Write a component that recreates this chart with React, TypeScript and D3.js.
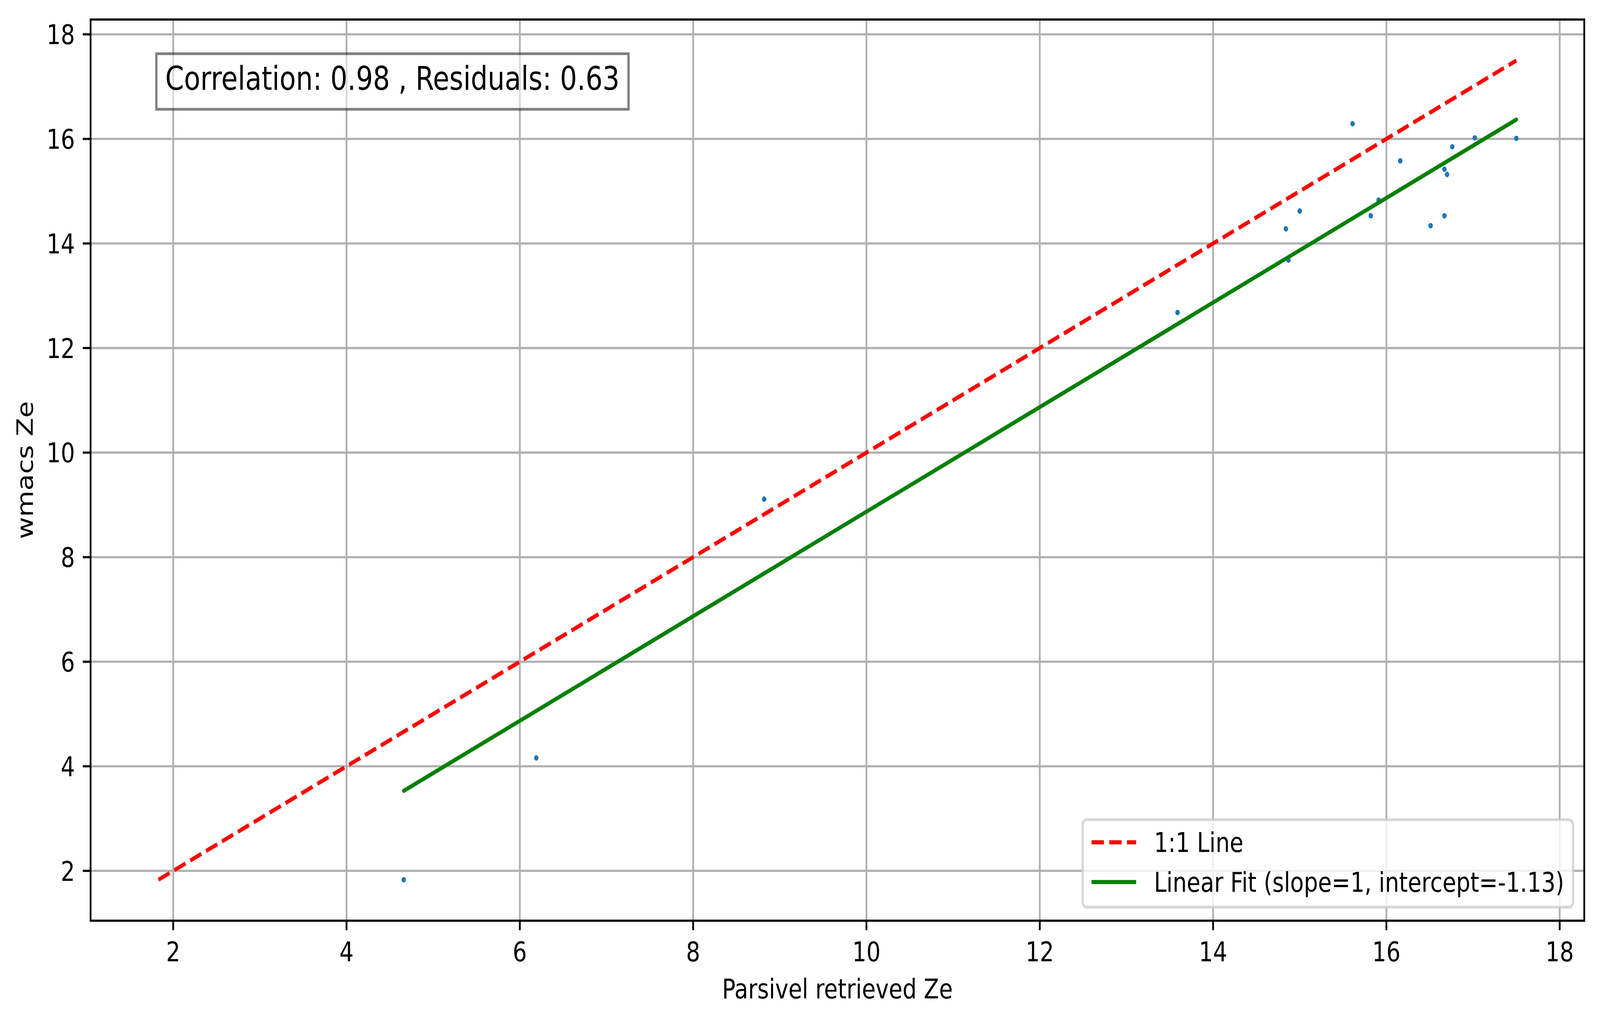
import React, { useRef, useEffect } from "react"
import * as d3 from "d3"

// values
const parsivelZe = [4.66, 6.19, 8.82, 13.59, 14.84, 14.87, 15.0, 15.61, 15.82, 15.91, 16.16, 16.51, 16.67, 16.67, 16.7, 16.76, 17.02, 17.5]
const wmacsZe = [1.83, 4.16, 9.11, 12.68, 14.28, 13.68, 14.62, 16.29, 14.53, 14.83, 15.58, 14.34, 14.53, 15.42, 15.32, 15.85, 16.02, 16.01]
const fitIntercept = -1.13
const xTicks = [2, 4, 6, 8, 10, 12, 14, 16, 18]
const yTicks = [2, 4, 6, 8, 10, 12, 14, 16, 18]
const legendLabels = ["1:1 Line", "Linear Fit (slope=1, intercept=-1.13)"]
const statsText = "Correlation: 0.98 , Residuals: 0.63"
const xLabel = "Parsivel retrieved Ze"
const yLabel = "wmacs Ze"

const W = 4981
const H = 2620
const pt = 500 / 72
const font = "DejaVu Sans"

const App: React.FC = () => {
  const margin = { top: 50, right: W - 4932, bottom: H - 2358, left: 282 }
  const svgRef = useRef<SVGSVGElement>(null)

  useEffect(() => {
    const svg = d3.select(svgRef.current)
    svg.selectAll("*").remove()

    const lo = Math.min(d3.min(parsivelZe)!, d3.min(wmacsZe)!)
    const hi = Math.max(d3.max(parsivelZe)!, d3.max(wmacsZe)!)
    const pad = (hi - lo) * 0.05

    const x0 = margin.left, x1 = W - margin.right
    const y0 = margin.top, y1 = H - margin.bottom

    const x = d3.scaleLinear().domain([lo - pad, hi + pad]).range([x0, x1])
    const y = d3.scaleLinear().domain([lo - pad, hi + pad]).range([y1, y0])

    svg.append("rect").attr("width", W).attr("height", H).attr("fill", "white")

    // grid
    const grid = svg.append("g").attr("stroke", "#b0b0b0").attr("stroke-width", 0.8 * pt)
    grid.selectAll("line.gx").data(xTicks).enter().append("line")
      .attr("x1", d => x(d)).attr("x2", d => x(d)).attr("y1", y0).attr("y2", y1)
    grid.selectAll("line.gy").data(yTicks).enter().append("line")
      .attr("y1", d => y(d)).attr("y2", d => y(d)).attr("x1", x0).attr("x2", x1)

    // scatter
    svg.append("g").selectAll("circle")
      .data(parsivelZe)
      .enter().append("circle")
      .attr("cx", d => x(d))
      .attr("cy", (d, i) => y(wmacsZe[i]))
      .attr("r", 1.0 * pt)
      .attr("fill", "#1f77b4")

    const line = d3.line<number[]>().x(d => x(d[0])).y(d => y(d[1]))

    // 1:1 line
    svg.append("path")
      .attr("d", line([[lo, lo], [hi, hi]]))
      .attr("fill", "none")
      .attr("stroke", "red")
      .attr("stroke-width", 1.5 * pt)
      .attr("stroke-dasharray", `${5.55 * pt},${2.4 * pt}`)

    // fit line
    const fx0 = d3.min(parsivelZe)!, fx1 = d3.max(parsivelZe)!
    svg.append("path")
      .attr("d", line([[fx0, fx0 + fitIntercept], [fx1, fx1 + fitIntercept]]))
      .attr("fill", "none")
      .attr("stroke", "green")
      .attr("stroke-width", 1.5 * pt)
      .attr("stroke-linecap", "round")

    // spines
    svg.append("rect")
      .attr("x", x0).attr("y", y0).attr("width", x1 - x0).attr("height", y1 - y0)
      .attr("fill", "none").attr("stroke", "black").attr("stroke-width", 0.8 * pt)

    // ticks
    const tickLen = 3.5 * pt
    const fs = 10 * pt
    const xt = svg.append("g")
    xt.selectAll("line").data(xTicks).enter().append("line")
      .attr("x1", d => x(d)).attr("x2", d => x(d)).attr("y1", y1).attr("y2", y1 + tickLen)
      .attr("stroke", "black").attr("stroke-width", 0.8 * pt)
    xt.selectAll("text").data(xTicks).enter().append("text")
      .attr("x", d => x(d)).attr("y", y1 + 2 * tickLen + 0.8 * fs)
      .attr("text-anchor", "middle")
      .attr("font-family", font).attr("font-size", fs)
      .text(d => d)

    const yt = svg.append("g")
    yt.selectAll("line").data(yTicks).enter().append("line")
      .attr("y1", d => y(d)).attr("y2", d => y(d)).attr("x1", x0).attr("x2", x0 - tickLen)
      .attr("stroke", "black").attr("stroke-width", 0.8 * pt)
    yt.selectAll("text").data(yTicks).enter().append("text")
      .attr("x", x0 - 2 * tickLen).attr("y", d => y(d) + 0.364 * fs)
      .attr("text-anchor", "end")
      .attr("font-family", font).attr("font-size", fs)
      .text(d => d)

    // axis labels
    svg.append("text")
      .attr("x", (x0 + x1) / 2).attr("y", 2557)
      .attr("text-anchor", "middle")
      .attr("font-family", font).attr("font-size", fs)
      .text(xLabel)
    svg.append("text")
      .attr("transform", `translate(102,${(y0 + y1) / 2}) rotate(-90)`)
      .attr("text-anchor", "middle")
      .attr("font-family", font).attr("font-size", fs)
      .text(yLabel)

    // stats box
    const sfs = 12 * pt
    const boxPad = 4 * pt
    const tx = x0 + 0.05 * (x1 - x0)
    const ttop = y0 + 0.05 * (y1 - y0)
    const statsG = svg.append("g")
    const statsRect = statsG.append("rect")
    const st = statsG.append("text")
      .attr("x", tx).attr("y", ttop + 0.78 * sfs)
      .attr("font-family", font).attr("font-size", sfs)
      .text(statsText)
    const stLen = (st.node() as SVGTextElement).getComputedTextLength()
    statsRect
      .attr("x", tx - boxPad).attr("y", ttop - boxPad)
      .attr("width", stLen + 2 * boxPad).attr("height", 1.04 * sfs + 2 * boxPad)
      .attr("fill", "white").attr("fill-opacity", 0.5)
      .attr("stroke", "black").attr("stroke-opacity", 0.5).attr("stroke-width", 1 * pt)

    // legend
    const lgBottom = y1 - 0.5 * fs
    const lgRight = x1 - 0.5 * fs
    const bpad = 0.4 * fs
    const handleLen = 2 * fs
    const handlePad = 0.8 * fs
    const rowStep = 1.464 * fs
    const lg = svg.append("g")
    const lgRect = lg.append("rect")
    const labels = lg.selectAll("text").data(legendLabels).enter().append("text")
      .attr("font-family", font).attr("font-size", fs)
      .text(d => d)
    let maxLen = 0
    labels.each(function () {
      maxLen = Math.max(maxLen, (this as SVGTextElement).getComputedTextLength())
    })
    const lgWidth = 2 * bpad + handleLen + handlePad + maxLen
    const lgLeft = lgRight - lgWidth
    const lgTop = lgBottom - 224
    lgRect
      .attr("x", lgLeft).attr("y", lgTop).attr("width", lgWidth).attr("height", lgBottom - lgTop)
      .attr("rx", 0.2 * fs).attr("ry", 0.2 * fs)
      .attr("fill", "white").attr("fill-opacity", 0.8)
      .attr("stroke", "#cccccc").attr("stroke-opacity", 0.8).attr("stroke-width", 1 * pt)
    const rowBase = (i: number) => lgBottom - 39.3 - (legendLabels.length - 1 - i) * rowStep
    labels
      .attr("x", lgLeft + bpad + handleLen + handlePad)
      .attr("y", (d, i) => rowBase(i))
    const hx = lgLeft + bpad
    lg.append("line")
      .attr("x1", hx).attr("x2", hx + handleLen)
      .attr("y1", rowBase(0) - 25).attr("y2", rowBase(0) - 25)
      .attr("stroke", "red").attr("stroke-width", 1.5 * pt)
      .attr("stroke-dasharray", `${5.55 * pt},${2.4 * pt}`)
    lg.append("line")
      .attr("x1", hx).attr("x2", hx + handleLen)
      .attr("y1", rowBase(1) - 25).attr("y2", rowBase(1) - 25)
      .attr("stroke", "green").attr("stroke-width", 1.5 * pt)
  }, [])

  return (
    <svg
      ref={svgRef}
      viewBox={`0 0 ${W} ${H}`}
      preserveAspectRatio="none"
      style={{ position: "absolute", left: 0, top: 0, width: "100vw", height: "100vh", display: "block" }}
    />
  )
}

export default App
